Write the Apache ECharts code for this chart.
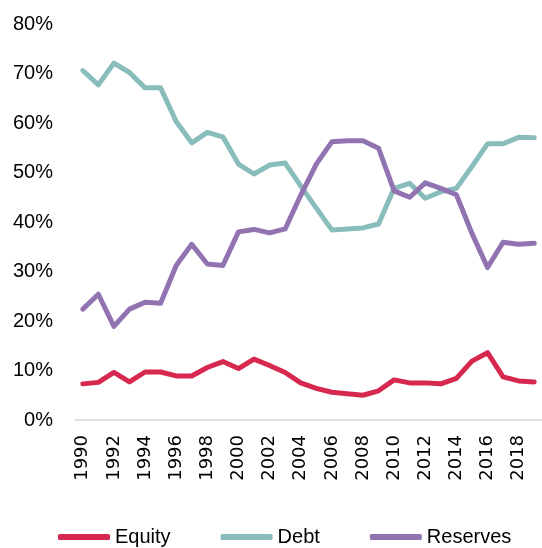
<!DOCTYPE html>
<html>
<head>
<meta charset="utf-8">
<script src="https://cdn.jsdelivr.net/npm/echarts@6/dist/echarts.min.js"></script>
<style>
  html, body { margin: 0; padding: 0; background: #fff; }
  #chart { width: 542px; height: 548px; }
</style>
</head>
<body>
<div id="chart"></div>
<script>
// years on the x axis
const years = []
for (let y = 1990; y <= 2019; y++) years.push(String(y))

// shares in percent
const equity = [7.3, 7.6, 9.6, 7.7, 9.7, 9.7, 8.9, 8.9, 10.6, 11.8,
  10.4, 12.3, 11.0, 9.6, 7.5, 6.4, 5.6, 5.3, 5.0, 5.9,
  8.1, 7.5, 7.5, 7.3, 8.4, 11.9, 13.6, 8.7, 7.9, 7.7]
const debt = [70.6, 67.7, 72.1, 70.2, 67.1, 67.1, 60.3, 56.0, 58.1, 57.2,
  51.7, 49.7, 51.5, 51.9, 47.3, 42.8, 38.4, 38.6, 38.8, 39.6,
  46.8, 47.8, 44.8, 46.1, 46.8, 51.2, 55.8, 55.8, 57.1, 57.0]
const reserves = [22.4, 25.4, 18.9, 22.4, 23.8, 23.6, 31.2, 35.5, 31.5, 31.2,
  38.0, 38.5, 37.8, 38.6, 45.4, 51.7, 56.2, 56.4, 56.4, 54.9,
  46.3, 45.0, 47.9, 46.8, 45.5, 37.7, 30.8, 35.9, 35.5, 35.7]

const chart = echarts.init(document.getElementById('chart'))

const lineSeries = (name, data, color) => ({
  name,
  type: 'line',
  data,
  symbol: 'none',
  lineStyle: { color, width: 5, join: 'round', cap: 'round' },
  itemStyle: { color }
})

chart.setOption({
  animation: false,
  grid: {
    left: 75,
    right: -8,
    top: 24,
    bottom: 128
  },
  legend: {
    left: 53,
    top: 522,
    icon: 'roundRect',
    itemWidth: 52,
    itemHeight: 6,
    itemGap: 50,
    textStyle: { fontFamily: 'Liberation Sans', fontSize: 20, color: '#000' },
    data: ['Equity', 'Debt', 'Reserves']
  },
  xAxis: {
    type: 'category',
    data: years,
    boundaryGap: true,
    axisLine: { lineStyle: { color: '#d9d9d9', width: 1.5 } },
    axisTick: { show: false },
    axisLabel: {
      rotate: 90,
      interval: 1,
      margin: 15,
      fontFamily: 'DejaVu Sans',
      fontSize: 18,
      color: '#000'
    }
  },
  yAxis: {
    type: 'value',
    min: 0,
    max: 80,
    interval: 10,
    axisLine: { show: false },
    axisTick: { show: false },
    splitLine: { show: false },
    axisLabel: {
      formatter: '{value}%',
      margin: 22,
      fontFamily: 'Liberation Sans',
      fontSize: 20,
      color: '#000'
    }
  },
  series: [
    lineSeries('Equity', equity, '#d7284f'),
    lineSeries('Debt', debt, '#88bdbc'),
    lineSeries('Reserves', reserves, '#9273b2')
  ]
})
</script>
</body>
</html>
